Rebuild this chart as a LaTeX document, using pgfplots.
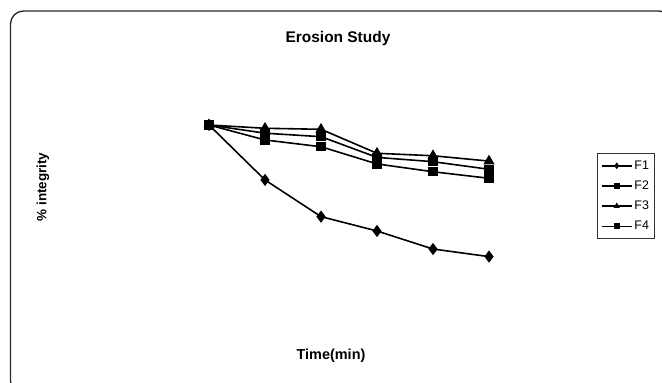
\documentclass[border=0pt]{standalone}
\usepackage{pgfplots}
\pgfplotsset{compat=1.18}
\usepackage{fontspec}
\setmainfont{Liberation Sans}
\begin{document}
\begin{tikzpicture}[x=1bp,y=1bp]
\useasboundingbox (0,0) rectangle (662,382);
\clip (0,0) rectangle (662,382);
\draw[rounded corners=13bp, line width=1.3bp, black!85] (10.5,-12) rectangle (672,371);
\node[font=\bfseries\fontsize{15.5}{18}\selectfont] at (338,343) {Erosion Study};
\node[font=\bfseries\fontsize{13.5}{15}\selectfont, rotate=90] at (43,195) {\% integrity};
\node[font=\bfseries\fontsize{14.5}{16}\selectfont] at (331,26) {Time(min)};
\begin{axis}[
  at={(153bp,52bp)}, anchor=south west,
  width=392bp, height=246bp, scale only axis,
  xmin=-1, xmax=6, ymin=0, ymax=120,
  axis lines=none, ticks=none,
  clip=false,
  every axis plot/.append style={black, line width=1.6bp, mark options={solid, fill=black}},
  legend style={at={(1.2066,0.5447)}, anchor=center, draw=black!80, line width=1bp,
    font=\fontsize{12.5}{14}\selectfont, row sep=6bp, inner xsep=4bp, inner ysep=5bp},
  legend cell align=left,
  legend image code/.code={\draw[mark size=2.2bp, line width=1.4bp, mark repeat=2, mark phase=2] plot coordinates {(0bp,0bp) (15bp,0bp) (30bp,0bp)};},
]
\addplot[mark=diamond*, mark size=4.8bp] coordinates {(0,100) (1,73.2) (2,55.3) (3,48.3) (4,39.5) (5,35.8)};
\addlegendentry{F1}
\addplot[mark=square*, mark size=3.8bp] coordinates {(0,100) (1,96.0) (2,94.3) (3,84.2) (4,82.1) (5,78.4)};
\addlegendentry{F2}
\addplot[mark=triangle*, mark size=4.8bp] coordinates {(0,100) (1,98.4) (2,97.9) (3,86.2) (4,85.0) (5,82.4)};
\addlegendentry{F3}
\addplot[mark=square*, mark size=3.8bp] coordinates {(0,100) (1,92.7) (2,89.4) (3,81.0) (4,77.2) (5,74.0)};
\addlegendentry{F4}
\end{axis}
\end{tikzpicture}
\end{document}
